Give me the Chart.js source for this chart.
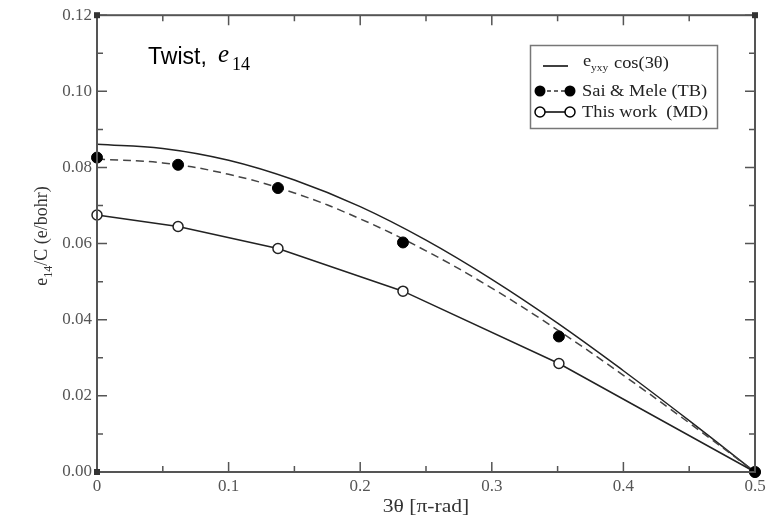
<!DOCTYPE html>
<html>
<head>
<meta charset="utf-8">
<script src="https://cdn.jsdelivr.net/npm/chart.js@4.4.0/dist/chart.umd.min.js"></script>
<style>
  html, body { margin: 0; padding: 0; background: #fff; }
  #wrap { width: 774px; height: 523px; }
</style>
</head>
<body>
<div id="wrap"><canvas id="piezoChart"></canvas></div>
<script>
// values
const xTicks = [0, 0.1, 0.2, 0.3, 0.4, 0.5];
const yTicks = [0, 0.02, 0.04, 0.06, 0.08, 0.1, 0.12];

const curveX = [0, 0.05, 0.1, 0.15, 0.2, 0.25, 0.3, 0.35, 0.4, 0.45, 0.5];
const cosCurve = [0.0861, 0.0850, 0.0819, 0.0767, 0.0697, 0.0609, 0.0506, 0.0391, 0.0266, 0.0135, 0];
const tbFit = [0.0822, 0.0812, 0.0782, 0.0733, 0.0665, 0.0581, 0.0483, 0.0373, 0.0254, 0.0129, 0];

const pointX = [0, 0.0616, 0.1375, 0.2325, 0.351, 0.5];
const saiMele = [0.0826, 0.0807, 0.0746, 0.0603, 0.0356, 0];
const thisWork = [0.0675, 0.0645, 0.0587, 0.0475, 0.0285, 0];

const toXY = (xs, ys) => xs.map((x, i) => ({ x: x, y: ys[i] }));

const serif = "'Liberation Serif', 'DejaVu Serif', serif";

// the original figure is a little stretched sideways
function wideText(ctx, text, x, y, sx) {
  ctx.save();
  ctx.translate(x, y);
  ctx.scale(sx, 1);
  ctx.fillText(text, 0, 0);
  const w = ctx.measureText(text).width * sx;
  ctx.restore();
  return w;
}

// frame, inward ticks, axis titles, legend and annotation
const decorations = {
  id: "decorations",
  afterDraw(chart) {
    const ctx = chart.ctx;
    const { left, right, top, bottom } = chart.chartArea;
    const xs = chart.scales.x;
    const ys = chart.scales.y;
    ctx.save();

    ctx.strokeStyle = "#555";
    ctx.lineWidth = 2;
    ctx.strokeRect(left, top, right - left, bottom - top);

    ctx.lineWidth = 1.5;
    ctx.beginPath();
    for (let i = 0; i <= 10; i++) {
      const px = xs.getPixelForValue(i * 0.05);
      const len = i % 2 === 0 ? 10 : 6;
      ctx.moveTo(px, bottom); ctx.lineTo(px, bottom - len);
      ctx.moveTo(px, top); ctx.lineTo(px, top + len);
    }
    for (let i = 0; i <= 12; i++) {
      const py = ys.getPixelForValue(i * 0.01);
      const len = i % 2 === 0 ? 10 : 6;
      ctx.moveTo(left, py); ctx.lineTo(left + len, py);
      ctx.moveTo(right, py); ctx.lineTo(right - len, py);
    }
    ctx.stroke();

    // little squares on the frame corners
    ctx.fillStyle = "#333";
    [[0, 0.12], [0.5, 0.12], [0, 0]].forEach(c => {
      const px = xs.getPixelForValue(c[0]);
      const py = ys.getPixelForValue(c[1]);
      ctx.fillRect(px - 3, py - 3, 6, 6);
    });

    // x title
    ctx.fillStyle = "#333";
    ctx.font = "18px " + serif;
    ctx.textAlign = "left";
    ctx.textBaseline = "alphabetic";
    const tw = ctx.measureText("3θ [π-rad]").width * 1.2;
    wideText(ctx, "3θ [π-rad]", (left + right) / 2 - tw / 2, 512, 1.2);

    // y title with subscript
    ctx.save();
    ctx.translate(47, 236);
    ctx.rotate(-Math.PI / 2);
    const parts = [["e", 18, 0], ["14", 12, 5], ["/C (e/bohr)", 18, 0]];
    let w = 0;
    parts.forEach(p => { ctx.font = p[1] + "px " + serif; w += ctx.measureText(p[0]).width; });
    let cx = -w / 2;
    parts.forEach(p => {
      ctx.font = p[1] + "px " + serif;
      ctx.fillText(p[0], cx, p[2]);
      cx += ctx.measureText(p[0]).width;
    });
    ctx.restore();

    // annotation
    ctx.fillStyle = "#000";
    ctx.font = "23px 'Liberation Sans', Arial, sans-serif";
    ctx.fillText("Twist,", 148, 64);
    ctx.font = "italic 25px " + serif;
    ctx.fillText("e", 218, 62);
    ctx.font = "18px " + serif;
    ctx.fillText("14", 232, 70);

    // legend box
    ctx.strokeStyle = "#777";
    ctx.lineWidth = 1.5;
    ctx.strokeRect(530.5, 45.5, 187, 83);

    ctx.strokeStyle = "#000";
    ctx.lineWidth = 1.5;
    ctx.beginPath(); ctx.moveTo(543, 66); ctx.lineTo(568, 66); ctx.stroke();
    ctx.fillStyle = "#222";
    ctx.font = "16px " + serif;
    wideText(ctx, "e", 583, 66, 1.15);
    ctx.font = "10px " + serif;
    wideText(ctx, "yxy", 591, 71, 1.15);
    ctx.font = "16px " + serif;
    wideText(ctx, "cos(3θ)", 614, 68, 1.15);

    ctx.setLineDash([4, 3]);
    ctx.strokeStyle = "#333";
    ctx.beginPath(); ctx.moveTo(540, 91); ctx.lineTo(570, 91); ctx.stroke();
    ctx.setLineDash([]);
    ctx.fillStyle = "#000";
    [540, 570].forEach(px => { ctx.beginPath(); ctx.arc(px, 91, 5.5, 0, Math.PI * 2); ctx.fill(); });
    ctx.fillStyle = "#222";
    wideText(ctx, "Sai & Mele (TB)", 582, 96, 1.15);

    ctx.strokeStyle = "#000";
    ctx.beginPath(); ctx.moveTo(545, 112); ctx.lineTo(566, 112); ctx.stroke();
    [540, 570].forEach(px => {
      ctx.beginPath(); ctx.arc(px, 112, 5, 0, Math.PI * 2);
      ctx.fillStyle = "#fff"; ctx.fill(); ctx.stroke();
    });
    ctx.fillStyle = "#222";
    wideText(ctx, "This work  (MD)", 582, 117, 1.15);

    ctx.restore();
  }
};

new Chart(document.getElementById("piezoChart"), {
  type: "scatter",
  data: {
    datasets: [
      {
        label: "Sai & Mele (TB)",
        data: toXY(pointX, saiMele),
        showLine: false,
        clip: false,
        pointRadius: 5.5,
        pointBackgroundColor: "#000",
        pointBorderColor: "#000",
        pointBorderWidth: 1,
      },
      {
        label: "This work (MD)",
        data: toXY(pointX, thisWork),
        showLine: true,
        clip: false,
        borderColor: "#222",
        borderWidth: 1.5,
        pointRadius: 5,
        pointBackgroundColor: "#fff",
        pointBorderColor: "#222",
        pointBorderWidth: 1.5,
      },
      {
        label: "TB fit",
        data: toXY(curveX, tbFit),
        showLine: true,
        borderColor: "#444",
        borderWidth: 1.5,
        borderDash: [8, 5],
        tension: 0.4,
        pointRadius: 0,
      },
      {
        label: "e_yxy cos(3θ)",
        data: toXY(curveX, cosCurve),
        showLine: true,
        borderColor: "#222",
        borderWidth: 1.5,
        tension: 0.4,
        pointRadius: 0,
      },
    ],
  },
  options: {
    responsive: true,
    maintainAspectRatio: false,
    animation: false,
    layout: { padding: { top: 14, right: 19, left: 0, bottom: 0 } },
    plugins: {
      legend: { display: false },
      tooltip: { enabled: false },
    },
    scales: {
      x: {
        type: "linear",
        min: 0,
        max: 0.5,
        afterBuildTicks: (scale) => { scale.ticks = xTicks.map(v => ({ value: v })); },
        afterFit: (scale) => { scale.height = 51; },
        grid: { display: false, drawTicks: false },
        border: { display: false },
        ticks: {
          padding: 4,
          color: "#555",
          font: { family: serif, size: 17 },
          callback: (v) => String(Math.round(v * 10) / 10),
        },
      },
      y: {
        type: "linear",
        min: 0,
        max: 0.12,
        afterBuildTicks: (scale) => { scale.ticks = yTicks.map(v => ({ value: v })); },
        afterFit: (scale) => { scale.width = 97; },
        grid: { display: false, drawTicks: false },
        border: { display: false },
        ticks: {
          padding: 5,
          color: "#555",
          font: { family: serif, size: 17 },
          callback: (v) => v.toFixed(2),
        },
      },
    },
  },
  plugins: [decorations],
});
</script>
</body>
</html>
